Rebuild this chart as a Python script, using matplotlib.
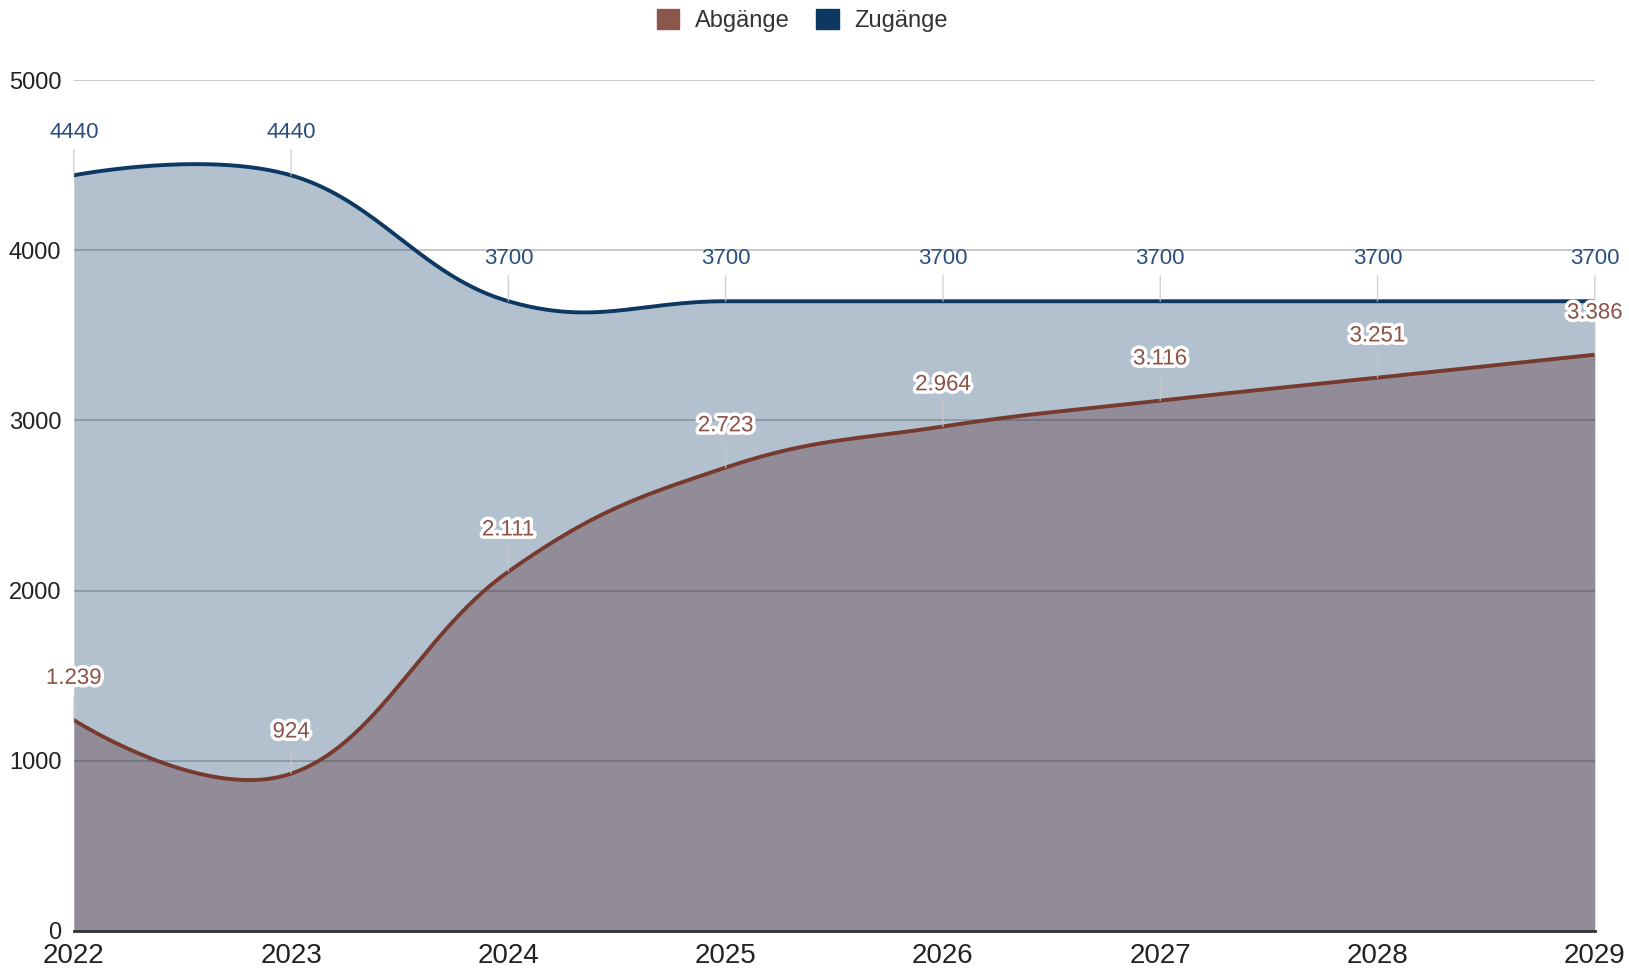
import numpy as np
import matplotlib
matplotlib.use("Agg")
import matplotlib.pyplot as plt
from matplotlib.patches import Patch
import matplotlib.patheffects as pe

plt.rcParams['font.family'] = ['Liberation Sans', 'DejaVu Sans']

years = [2022, 2023, 2024, 2025, 2026, 2027, 2028, 2029]
zugaenge = [4440, 4440, 3700, 3700, 3700, 3700, 3700, 3700]
abgaenge = [1239, 924, 2111, 2723, 2964, 3116, 3251, 3386]
y_ticks = [0, 1000, 2000, 3000, 4000, 5000]

C_ZU = '#0c3862'
C_ZU_LINE = '#0c3862'
C_ZU_LABEL = '#2a4f7c'
C_AB = '#8b574c'
C_AB_LINE = '#773a2f'
C_AB_LABEL = '#8b5247'


def smooth(xs, ys, n=60, s=1.5):
    xs = np.asarray(xs, float)
    ys = np.asarray(ys, float)
    m = len(xs)
    d = 1 + s
    lc = [(xs[i], ys[i]) for i in range(m)]
    rc = [(xs[i], ys[i]) for i in range(m)]
    for i in range(1, m - 1):
        lx = (s * xs[i] + xs[i - 1]) / d
        ly = (s * ys[i] + ys[i - 1]) / d
        rx = (s * xs[i] + xs[i + 1]) / d
        ry = (s * ys[i] + ys[i + 1]) / d
        corr = (ry - ly) * (rx - xs[i]) / (rx - lx) + ys[i] - ry
        lc[i] = (lx, ly + corr)
        rc[i] = (rx, ry + corr)
    X, Y = [], []
    t = np.linspace(0, 1, n)
    for i in range(m - 1):
        p0 = (xs[i], ys[i]); p1 = rc[i]; p2 = lc[i + 1]; p3 = (xs[i + 1], ys[i + 1])
        bx = (1 - t) ** 3 * p0[0] + 3 * (1 - t) ** 2 * t * p1[0] + 3 * (1 - t) * t ** 2 * p2[0] + t ** 3 * p3[0]
        by = (1 - t) ** 3 * p0[1] + 3 * (1 - t) ** 2 * t * p1[1] + 3 * (1 - t) * t ** 2 * p2[1] + t ** 3 * p3[1]
        if i > 0:
            bx, by = bx[1:], by[1:]
        X.extend(bx); Y.extend(by)
    return np.array(X), np.array(Y)


fig = plt.figure(figsize=(16.29, 9.71), dpi=100)
ax = fig.add_axes([0.0453, 0.0413, 0.979 - 0.0453, 0.9176 - 0.0413])

ax.set_xlim(years[0], years[-1])
ax.set_ylim(0, 5000)

# gridlines
for yt in y_ticks[1:]:
    ax.axhline(yt, color='#d2d2d2', lw=1.3, zorder=1)

zx, zy = smooth(years, zugaenge)
ax_, ay = smooth(years, abgaenge)

ax.fill_between(zx, 0, zy, color=C_ZU, alpha=0.31, lw=0, zorder=2)
ax.fill_between(ax_, 0, ay, color='#5e3e48', alpha=0.40, lw=0, zorder=3)

# gridlines slightly darker inside fills (overlay)
for yt in y_ticks[1:]:
    ax.axhline(yt, color='black', lw=1.3, alpha=0.06, zorder=3.5)

ax.plot(zx, zy, color=C_ZU_LINE, lw=2.8, zorder=6, solid_capstyle='round')
ax.plot(ax_, ay, color=C_AB_LINE, lw=2.8, zorder=6, solid_capstyle='round')

stroke = [pe.withStroke(linewidth=5, foreground='white')]
for x, v in zip(years, zugaenge):
    ax.annotate(str(v), xy=(x, v), xytext=(0, 31), textcoords='offset points',
                ha='center', va='center', fontsize=16, color=C_ZU_LABEL, zorder=8,
                annotation_clip=False,
                arrowprops=dict(arrowstyle='-', color='#c8c8c8', lw=1, shrinkA=3, shrinkB=0, alpha=0.8))
for x, v in zip(years, abgaenge):
    lab = f"{v:,}".replace(',', '.')
    ax.annotate(lab, xy=(x, v), xytext=(0, 30), textcoords='offset points',
                ha='center', va='center', fontsize=16, color=C_AB_LABEL, zorder=8,
                annotation_clip=False, path_effects=stroke,
                arrowprops=dict(arrowstyle='-', color='#c8c8c8', lw=1, shrinkA=3, shrinkB=0, alpha=0.8))

for sp in ['top', 'right', 'left']:
    ax.spines[sp].set_visible(False)
ax.spines['bottom'].set_color('#333333')
ax.spines['bottom'].set_linewidth(2)
ax.spines['bottom'].set_zorder(7)

ax.set_xticks(years)
ax.set_xticklabels([str(y) for y in years], fontsize=20, color='#222222')
ax.tick_params(axis='x', length=0, pad=9)
ax.set_yticks(y_ticks)
ax.set_yticklabels([str(y) for y in y_ticks], fontsize=17, color='#222222')
ax.tick_params(axis='y', length=0, pad=9)

handles = [Patch(facecolor=C_AB, edgecolor=C_AB, label='Abgänge'),
           Patch(facecolor=C_ZU, edgecolor=C_ZU, label='Zugänge')]
leg = fig.legend(handles=handles, loc='center', bbox_to_anchor=(0.4925, 0.979), ncol=2,
                 frameon=False, fontsize=17, handlelength=0.95, handleheight=0.95,
                 handletextpad=0.65, columnspacing=1.15)
for t in leg.get_texts():
    t.set_color('#333333')

fig.savefig('out.png', dpi=100)
